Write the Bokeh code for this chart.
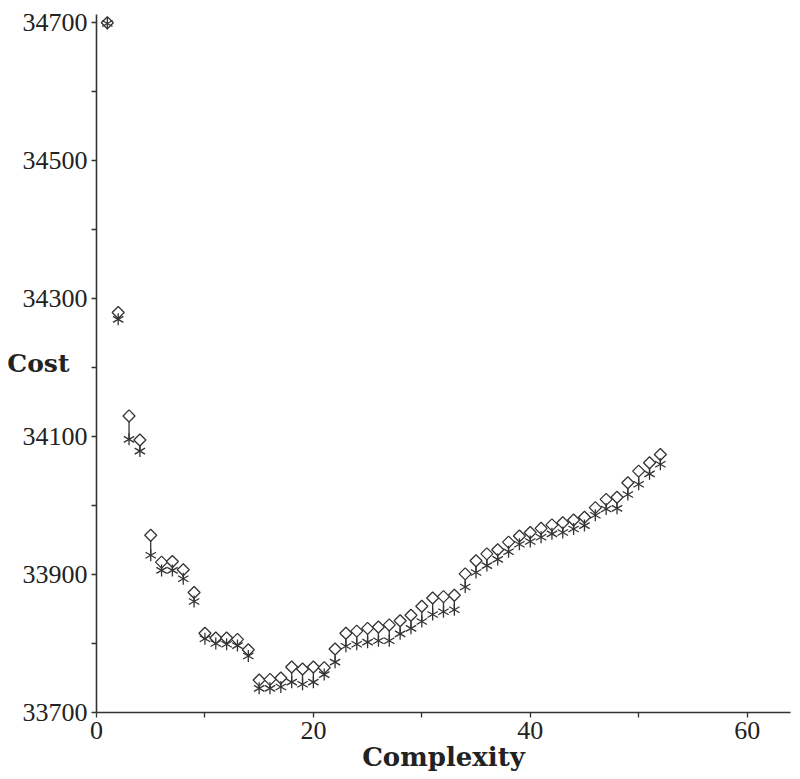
import math
from bokeh.plotting import figure
from bokeh.models import FixedTicker, Range1d, ColumnDataSource
from bokeh.embed import file_html
from bokeh.resources import INLINE

complexity = [1, 2, 3, 4, 5, 6, 7, 8, 9, 10, 11, 12, 13, 14, 15, 16, 17, 18, 19, 20,
              21, 22, 23, 24, 25, 26, 27, 28, 29, 30, 31, 32, 33, 34, 35, 36, 37, 38, 39, 40,
              41, 42, 43, 44, 45, 46, 47, 48, 49, 50, 51, 52]
cost_diamond = [34700, 34280, 34130, 34095, 33957, 33918, 33919, 33907, 33874, 33815,
                33808, 33808, 33806, 33791, 33747, 33748, 33750, 33766, 33763, 33766,
                33765, 33792, 33815, 33818, 33822, 33824, 33827, 33833, 33841, 33854,
                33866, 33868, 33870, 33901, 33920, 33930, 33936, 33947, 33956, 33961,
                33967, 33972, 33975, 33979, 33983, 33997, 34009, 34012, 34033, 34050,
                34062, 34074]
cost_star = [34699, 34270, 34096, 34079, 33928, 33906, 33906, 33894, 33861, 33807,
             33800, 33799, 33797, 33782, 33735, 33735, 33737, 33744, 33741, 33744,
             33755, 33773, 33796, 33799, 33802, 33804, 33804, 33814, 33822, 33832,
             33842, 33846, 33849, 33882, 33903, 33913, 33922, 33933, 33944, 33948,
             33954, 33959, 33961, 33966, 33971, 33986, 33995, 33996, 34016, 34031,
             34046, 34060]
x_ticks = [0, 20, 40, 60]
x_minor = [10, 30, 50]
y_ticks = [33700, 33900, 34100, 34300, 34500, 34700]
y_minor = [33800, 34000, 34200, 34400, 34600]

src = ColumnDataSource(dict(x=complexity, d=cost_diamond, s=cost_star))

ink = "#333333"
p = figure(width=800, height=774, output_backend="svg", toolbar_location=None,
           x_range=Range1d(0, 64), y_range=Range1d(33700, 34712),
           min_border_left=96, min_border_right=10, min_border_top=14, min_border_bottom=50)
p.outline_line_color = None
p.grid.visible = False
p.background_fill_color = "white"

p.segment(x0="x", y0="d", x1="x", y1="s", source=src, line_color=ink, line_width=1.3)
p.scatter(x="x", y="d", source=src, marker="square", angle=math.pi / 4, size=8.5,
          fill_color="white", line_color=ink, line_width=1.3)
for ang in (math.pi / 2, math.pi / 6, -math.pi / 6):
    p.scatter(x="x", y="s", source=src, marker="dash", angle=ang, size=12,
              line_color=ink, line_width=1.3)

for ax in (p.xaxis[0], p.yaxis[0]):
    ax.axis_line_color = ink
    ax.axis_line_width = 1.6
    ax.major_tick_line_color = ink
    ax.minor_tick_line_color = ink
    ax.major_tick_line_width = 1.3
    ax.minor_tick_line_width = 1.3
    ax.major_tick_in = 0
    ax.minor_tick_in = 0
    ax.major_tick_out = 5
    ax.minor_tick_out = 5
    ax.major_label_text_font = "Liberation Serif"
    ax.major_label_text_font_size = "26px"
    ax.major_label_text_color = "#222222"
    ax.major_label_standoff = 4
    ax.axis_label_text_font = "DejaVu Serif"
    ax.axis_label_text_font_style = "bold"
    ax.axis_label_text_color = "#222222"

p.xaxis[0].ticker = FixedTicker(ticks=x_ticks, minor_ticks=x_minor)
p.yaxis[0].ticker = FixedTicker(ticks=y_ticks, minor_ticks=y_minor)
p.xaxis[0].axis_label = "Complexity"
p.xaxis[0].axis_label_text_font_size = "26px"
p.xaxis[0].axis_label_standoff = 0

p.yaxis[0].axis_label = "Cost"
p.yaxis[0].axis_label_orientation = "horizontal"
p.yaxis[0].axis_label_text_font_size = "25px"
p.yaxis[0].axis_label_standoff = -50

open("out.html", "w").write(file_html(p, INLINE))
